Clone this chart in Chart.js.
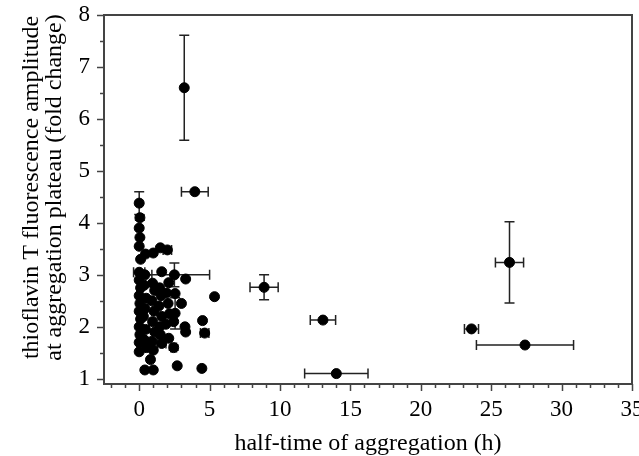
<!DOCTYPE html>
<html>
<head>
<meta charset="utf-8">
<script src="https://cdn.jsdelivr.net/npm/chart.js@4"></script>
<style>
  body { margin: 0; background: #fff; }
  #wrap { width: 639px; height: 456px; }
</style>
</head>
<body>
<div id="wrap"><canvas id="chart"></canvas></div>
<script>
// half-time of aggregation (h) and its error
const halfTime = [
  3.2, 3.95, 8.87, 13.05, 14.0, 26.3, 23.6, 27.4, 5.35, 4.5, 4.65, 4.45, 2.5,
  0.0, 0.05, 0.0, 0.05, 0.0, 0.1, 0.0, 0.0, 0.1, 0.0, 0.05, 0.0, 0.1, 0.0, 0.05, 0.0, 0.0,
  0.45, 0.4, 0.35, 0.5, 0.4, 0.3, 0.45, 0.35, 0.5, 0.4,
  1.0, 0.95, 1.1, 0.9, 1.05, 0.95, 1.1, 0.9, 1.0, 0.8, 1.0,
  1.5, 1.6, 1.45, 1.55, 1.4, 1.6, 1.45, 1.5, 1.6,
  2.0, 2.1, 1.95, 2.05, 2.15, 1.9, 2.1,
  2.55, 2.55, 2.45, 2.45, 2.7,
  3.3, 3.0, 3.25, 3.3
];
const halfTimeErr = [
  0, 0.95, 1.0, 0.9, 2.25, 1.0, 0.5, 3.45, 0, 0, 0.3, 0, 2.5,
  0, 0, 0, 0, 0, 0, 0.4, 0, 0, 0, 0, 0, 0, 0, 0, 0, 0,
  0, 0.5, 0, 0, 0, 0, 0, 0, 0, 0,
  0, 0, 0, 0, 0, 0, 0, 0.3, 0, 0, 0,
  0, 0, 0, 0, 0, 0, 0, 0, 0.3,
  0.3, 0, 0, 0, 0, 0, 0,
  0, 0, 0, 0.2, 0,
  0, 0, 0, 0
];
// thioflavin T amplitude (fold change) and its error
const amplitude = [
  6.6, 4.6, 2.76, 2.13, 1.1, 3.24, 1.96, 1.65, 2.58, 2.12, 1.88, 1.2, 3.0,
  4.38, 4.1, 3.9, 3.72, 3.55, 3.3, 3.05, 2.9, 2.75, 2.6, 2.45, 2.3, 2.15, 2.0, 1.85, 1.7, 1.52,
  3.4, 3.0, 2.8, 2.55, 2.35, 2.2, 1.95, 1.75, 1.6, 1.17,
  3.42, 2.84, 2.7, 2.5, 2.3, 2.1, 1.9, 1.72, 1.55, 1.37, 1.17,
  3.52, 3.06, 2.75, 2.6, 2.4, 2.2, 2.0, 1.85, 1.68,
  3.48, 2.85, 2.65, 2.45, 2.25, 2.05, 1.78,
  2.64, 2.26, 2.1, 1.6, 1.25,
  2.92, 2.45, 2.0, 1.9
];
const amplitudeErr = [
  1.01, 0, 0.24, 0, 0, 0.78, 0, 0, 0, 0, 0.05, 0, 0.23,
  0.22, 0.05, 0, 0, 0, 0, 0, 0, 0, 0, 0, 0, 0, 0, 0, 0, 0,
  0, 0, 0, 0, 0, 0, 0, 0, 0, 0,
  0, 0, 0, 0, 0, 0, 0, 0, 0, 0, 0,
  0, 0, 0, 0, 0, 0, 0, 0, 0,
  0, 0, 0, 0, 0, 0, 0,
  0, 0.3, 0, 0.05, 0,
  0, 0, 0, 0
];
const xTicks = [0, 5, 10, 15, 20, 25, 30, 35];
const yTicks = [1, 2, 3, 4, 5, 6, 7, 8];

const serif = "'Liberation Serif', 'Times New Roman', serif";
const ink = "#000";
const frameColor = "#444";

// error bars drawn under the points
const errorBars = {
  id: "errorBars",
  beforeDatasetsDraw(chart) {
    const { ctx, scales: { x, y } } = chart;
    ctx.save();
    ctx.strokeStyle = "#222";
    ctx.lineWidth = 1.5;
    const cap = 5;
    halfTime.forEach((hx, i) => {
      const px = x.getPixelForValue(hx);
      const py = y.getPixelForValue(amplitude[i]);
      ctx.beginPath();
      if (halfTimeErr[i] > 0) {
        const l = x.getPixelForValue(hx - halfTimeErr[i]);
        const r = x.getPixelForValue(hx + halfTimeErr[i]);
        ctx.moveTo(l, py); ctx.lineTo(r, py);
        ctx.moveTo(l, py - cap); ctx.lineTo(l, py + cap);
        ctx.moveTo(r, py - cap); ctx.lineTo(r, py + cap);
      }
      if (amplitudeErr[i] > 0) {
        const t = y.getPixelForValue(amplitude[i] + amplitudeErr[i]);
        const b = y.getPixelForValue(amplitude[i] - amplitudeErr[i]);
        ctx.moveTo(px, t); ctx.lineTo(px, b);
        ctx.moveTo(px - cap, t); ctx.lineTo(px + cap, t);
        ctx.moveTo(px - cap, b); ctx.lineTo(px + cap, b);
      }
      ctx.stroke();
    });
    ctx.restore();
  },
};

// box frame with major and minor ticks on left and bottom
const frame = {
  id: "frame",
  afterDraw(chart) {
    const { ctx, chartArea: a, scales: { x, y } } = chart;
    ctx.save();
    ctx.strokeStyle = frameColor;
    ctx.lineWidth = 2;
    ctx.strokeRect(a.left, a.top, a.right - a.left, a.bottom - a.top);
    ctx.lineWidth = 1.5;
    ctx.beginPath();
    for (let v = 1; v <= 8; v += 0.5) {
      const py = Math.round(y.getPixelForValue(v)) + 0.5;
      const len = Number.isInteger(v) ? 7 : 4;
      ctx.moveTo(a.left, py); ctx.lineTo(a.left - len, py);
    }
    for (let v = -2; v <= 35; v += 1) {
      const px = Math.round(x.getPixelForValue(v)) + 0.5;
      const len = v % 5 === 0 ? 7 : 4;
      ctx.moveTo(px, a.bottom); ctx.lineTo(px, a.bottom + len);
    }
    ctx.stroke();
    ctx.restore();
  },
};

new Chart(document.getElementById("chart"), {
  type: "scatter",
  data: {
    datasets: [{
      data: halfTime.map((v, i) => ({ x: v, y: amplitude[i] })),
      backgroundColor: ink,
      borderColor: ink,
      pointRadius: 5,
      pointHoverRadius: 5,
    }],
  },
  options: {
    responsive: true,
    maintainAspectRatio: false,
    animation: false,
    layout: { padding: { top: 15, right: 7, left: 0, bottom: 0 } },
    plugins: { legend: { display: false }, tooltip: { enabled: false } },
    scales: {
      x: {
        type: "linear",
        min: -2.5,
        max: 35,
        afterBuildTicks: (s) => { s.ticks = xTicks.map((v) => ({ value: v })); },
        afterFit: (s) => { s.height = 72; s.paddingLeft = 0; s.paddingRight = 0; },
        grid: { display: false, drawTicks: false },
        border: { display: false },
        ticks: { color: ink, padding: 12, maxRotation: 0, font: { family: serif, size: 23 } },
        title: {
          display: true,
          text: "half-time of aggregation (h)",
          color: ink,
          font: { family: serif, size: 24, lineHeight: 1 },
          padding: { top: 0, bottom: 0 },
        },
      },
      y: {
        type: "linear",
        min: 0.9,
        max: 8,
        afterBuildTicks: (s) => { s.ticks = yTicks.map((v) => ({ value: v })); },
        afterFit: (s) => { s.width = 104; s.paddingTop = 0; s.paddingBottom = 0; },
        grid: { display: false, drawTicks: false },
        border: { display: false },
        ticks: { color: ink, padding: 14, font: { family: serif, size: 23 } },
        title: {
          display: true,
          // leading spaces nudge the rotated text up to where the original sits
          text: ["    thioflavin T fluorescence amplitude", "    at aggregation plateau (fold change)"],
          color: ink,
          font: { family: serif, size: 24, lineHeight: 0.96 },
          padding: { top: 20, bottom: 0 },
        },
      },
    },
  },
  plugins: [errorBars, frame],
});
</script>
</body>
</html>
